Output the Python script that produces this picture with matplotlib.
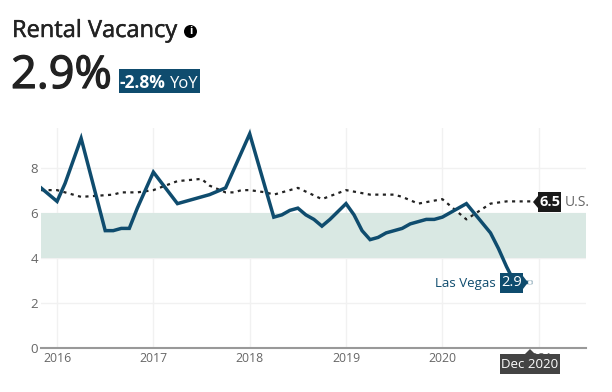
# -*- coding: utf-8 -*-
"""Rental vacancy chart, Las Vegas against the U.S."""

import matplotlib
matplotlib.use("Agg")
import matplotlib.pyplot as plt
import matplotlib.patheffects as pe
from matplotlib.patches import Circle, Polygon, Rectangle

plt.rcParams["font.family"] = ["Open Sans", "DejaVu Sans"]

NAVY = "#0F4C6E"
DARK = "#222222"
GREY = "#666666"
BAND = "#D9E8E3"
GRID = "#F1F1F1"

# months counted from Jan 2016
lv_months = [-2, 0, 1, 3, 6, 7, 8, 9, 10, 12, 15, 18, 19, 21, 24, 27, 28, 29, 30, 31, 32,
             33, 34, 36, 37, 38, 39, 40, 41, 42, 43, 44, 46, 47, 48, 51, 54, 55, 56, 57, 59]
lv_values = [7.1, 6.5, 7.3, 9.3, 5.2, 5.2, 5.3, 5.3, 6.2, 7.8, 6.4, 6.7, 6.8, 7.1, 9.5, 5.8, 5.9,
             6.1, 6.2, 5.9, 5.7, 5.4, 5.7, 6.4, 5.9, 5.2, 4.8, 4.9, 5.1, 5.2, 5.3, 5.5, 5.7, 5.7,
             5.8, 6.4, 5.1, 4.4, 3.6, 2.9, 2.9]
us_months = [-2, 0, 3, 7, 8, 10, 12, 15, 18, 19, 21, 22, 23, 24, 26, 27, 30, 33, 36, 39, 42, 43,
             45, 48, 51, 54, 56, 59]
us_values = [7.0, 7.0, 6.7, 6.8, 6.9, 6.9, 7.0, 7.4, 7.5, 7.2, 6.9, 6.9, 7.0, 7.0, 6.9, 6.8, 7.1,
             6.6, 7.0, 6.8, 6.8, 6.7, 6.4, 6.6, 5.7, 6.4, 6.5, 6.5]
year_months = [0, 12, 24, 36, 48, 60]
year_labels = ["2016", "2017", "2018", "2019", "2020", "2021"]
y_ticks = [0, 2, 4, 6, 8]
band_low, band_high = 4, 6

fig = plt.figure(figsize=(6.12, 3.92), dpi=100)
fig.patch.set_facecolor("white")

# axes box: px 41..586 across, 128..347.7 down
ax = fig.add_axes([41 / 612, 1 - 347.7 / 392, 545 / 612, 219.7 / 392])
ax.set_xlim(-2, 65.9)
ax.set_ylim(0, 9.76)
ax.axhspan(band_low, band_high, color=BAND, lw=0, zorder=1)
ax.plot(us_months, us_values, color=DARK, lw=1.6, ls=(0, (1.4, 2.0)), zorder=3)
ax.plot(lv_months, lv_values, color=NAVY, lw=2.5, solid_joinstyle="miter", zorder=4)

ax.set_xticks(year_months)
ax.set_xticklabels(year_labels)
ax.set_yticks(y_ticks)
ax.grid(True, color=GRID, lw=1, zorder=0)
ax.set_axisbelow(True)
for side in ("top", "left", "right"):
    ax.spines[side].set_visible(False)
ax.spines["bottom"].set_color("#999999")
ax.spines["bottom"].set_linewidth(1.5)
ax.tick_params(axis="both", length=0, labelcolor=GREY)
ax.tick_params(axis="x", labelsize=8.8, pad=3)
ax.tick_params(axis="y", labelsize=9.5, pad=2)
ax.patch.set_alpha(0)

# overlay in image pixels for the header and the labels
top = fig.add_axes([0, 0, 1, 1], zorder=5)
top.set_xlim(0, 612)
top.set_ylim(392, 0)
top.axis("off")

# the header weight is heavier than the regular face, so thicken it a little
title = top.text(12, 37, "Rental Vacancy", fontsize=17, color=DARK, va="baseline")
title.set_path_effects([pe.withStroke(linewidth=0.35, foreground=DARK)])
top.add_patch(Circle((190.5, 31.5), 6.5, color="black", lw=0))
top.text(190.5, 31.5, "i", fontsize=8, fontweight="bold", color="white", ha="center", va="center")
big = top.text(11, 88, f"{lv_values[-1]}%", fontsize=32.5, color=DARK, va="baseline")
big.set_path_effects([pe.withStroke(linewidth=0.9, foreground=DARK)])
top.add_patch(Rectangle((119, 69), 81, 24, color=NAVY, lw=0))
top.text(119, 88, "-2.8%", fontsize=12.5, fontweight="bold", color="white", va="baseline")
top.text(170, 88, "YoY", fontsize=12, color="white", va="baseline")

# U.S. end label
top.add_patch(Rectangle((538, 192), 23, 20, color="#1A1A1A", lw=0))
top.add_patch(Polygon([(538, 196), (533, 202), (538, 208)], color="#1A1A1A", lw=0))
top.text(549.5, 202, f"{us_values[-1]}", fontsize=10.5, fontweight="bold", color="white", ha="center", va="center")
top.text(565, 202, "U.S.", fontsize=10, color=GREY, va="center")

# Las Vegas end label, with the small hover dot at the last point
top.add_patch(Circle((530, 282.5), 2, facecolor="white", edgecolor="#C8D6DD", lw=0.6))
top.add_patch(Rectangle((500, 273), 23, 20, color=NAVY, lw=0))
top.add_patch(Polygon([(523, 276), (528, 282.5), (523, 289)], color=NAVY, lw=0))
top.text(511.5, 283, f"{lv_values[-1]}", fontsize=10.5, color="white", ha="center", va="center")
top.text(496, 283, "Las Vegas", fontsize=9.5, color=NAVY, ha="right", va="center")

# hover tooltip
top.add_patch(Rectangle((500, 354), 60, 20, color="#444444", lw=0))
top.add_patch(Polygon([(525, 354), (530, 349), (535, 354)], color="#444444", lw=0))
top.text(530, 364.5, "Dec 2020", fontsize=9.5, color="white", ha="center", va="center")

fig.savefig("out.png", dpi=100, facecolor="white")
